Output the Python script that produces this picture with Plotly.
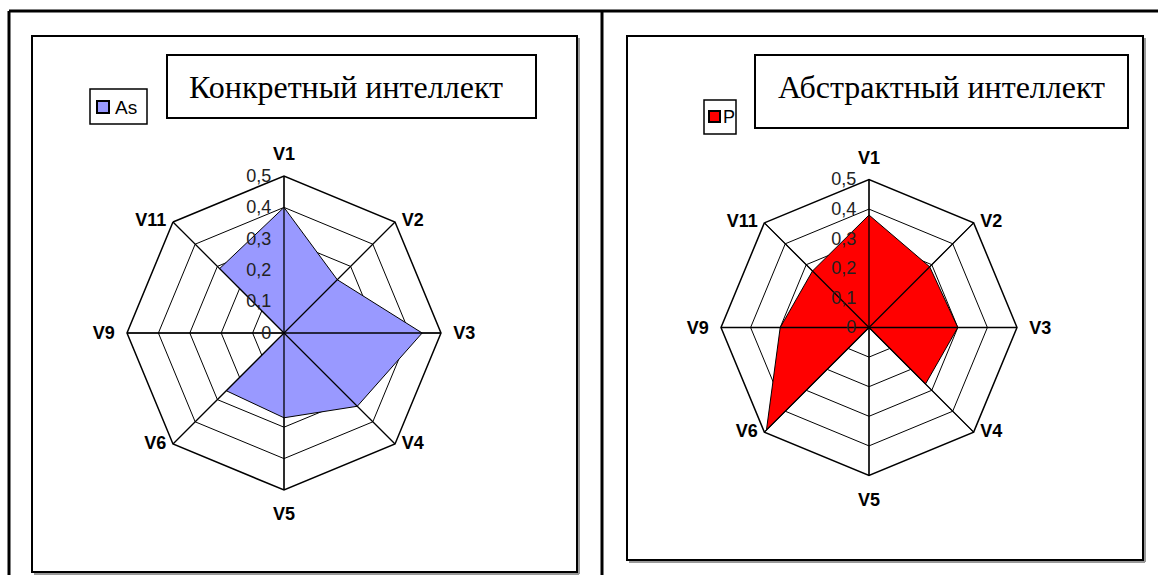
import plotly.graph_objects as go

W, H = 1158, 575

# Scale categories (clockwise from the top)
categories = ["V1", "V2", "V3", "V4", "V5", "V6", "V9", "V11"]

# Series values
as_values = [0.40, 0.24, 0.44, 0.33, 0.27, 0.26, 0.00, 0.29]
p_values = [0.38, 0.29, 0.30, 0.27, 0.00, 0.49, 0.30, 0.27]

# Radial tick labels (decimal comma)
r_tickvals = [0, 0.1, 0.2, 0.3, 0.4, 0.5]
r_ticktext = ["0", "0,1", "0,2", "0,3", "0,4", "0,5"]
r_max = 0.5

titles = ["Конкретный интеллект", "Абстрактный интеллект"]
series_names = ["As", "P"]
fill_colors = ["#9999FF", "#FF0000"]

# spokes on the vertical/horizontal get the axis' own labels,
# diagonal spokes get labels placed beside their outer vertex
straight = categories[0::2]
diagonal = categories[1::2]
diagonal_positions = ["middle right", "middle right", "middle left", "middle left"]
label_font = dict(family="Liberation Sans, Arial", size=18, color="black", weight="bold")


def px(x):
    return x / W


def py(y):
    return 1 - y / H


def closed(vals):
    return list(vals) + [vals[0]]


fig = go.Figure()

polar_ids = ["polar", "polar2"]
for i, (vals, name, color) in enumerate(zip([as_values, p_values], series_names, fill_colors)):
    fig.add_trace(go.Scatterpolar(
        r=closed(vals), theta=closed(categories), name=name,
        mode="lines", fill="toself", fillcolor=color,
        line=dict(color="black", width=1),
        subplot=polar_ids[i], showlegend=False, hoverinfo="r+theta",
    ))
    # spokes drawn over the filled area
    sr, st = [], []
    for c in categories:
        sr += [0, r_max, None]
        st += [c, c, None]
    fig.add_trace(go.Scatterpolar(
        r=sr, theta=st, mode="lines", line=dict(color="black", width=1.3),
        subplot=polar_ids[i], showlegend=False, hoverinfo="skip",
    ))
    # labels of the diagonal spokes (invisible marker keeps them off the vertex)
    fig.add_trace(go.Scatterpolar(
        r=[r_max] * len(diagonal), theta=diagonal, text=diagonal,
        mode="markers+text", marker=dict(size=9, color="rgba(0,0,0,0)"),
        textposition=diagonal_positions, textfont=label_font,
        subplot=polar_ids[i], showlegend=False, hoverinfo="skip", cliponaxis=False,
    ))


def polar_layout(cx, cy, rad):
    return dict(
        domain=dict(x=[px(cx - rad), px(cx + rad)], y=[py(cy + rad), py(cy - rad)]),
        gridshape="linear",
        bgcolor="white",
        angularaxis=dict(
            rotation=90, direction="clockwise",
            tickvals=categories,
            ticktext=[c if c in straight else "" for c in categories],
            showline=True, linecolor="black", linewidth=1.5,
            showgrid=True, gridcolor="black", gridwidth=1.3,
            ticks="outside", ticklen=8, tickcolor="rgba(0,0,0,0)",
            tickfont=label_font,
        ),
        radialaxis=dict(
            range=[0, r_max], angle=90, side="counterclockwise", tickangle=90,
            tickvals=r_tickvals, ticktext=r_ticktext,
            showline=False, ticks="outside", ticklen=6, tickcolor="rgba(0,0,0,0)",
            showgrid=True, gridcolor="black", gridwidth=1.3,
            tickfont=dict(family="Liberation Sans, Arial", size=18, color="#222222"),
            layer="above traces",
        ),
    )


shapes = []


def line(x0, y0, x1, y1, w=2, color="black"):
    shapes.append(dict(type="line", xref="paper", yref="paper",
                       x0=px(x0), y0=py(y0), x1=px(x1), y1=py(y1),
                       line=dict(color=color, width=w)))


def rect(x0, y0, x1, y1, w=2, color="black", fill=None):
    d = dict(type="rect", xref="paper", yref="paper",
             x0=px(x0), y0=py(y0), x1=px(x1), y1=py(y1),
             line=dict(color=color, width=w))
    if fill:
        d["fillcolor"] = fill
    shapes.append(d)


# outer table frame
line(9, 11, W, 11, 3)
line(9, 11, 9, H, 3)
line(602, 11, 602, H, 3)

# chart area frames with a light shadow
line(34, 574, 579, 574, 2, "#999999")
line(579, 38, 579, 574, 2, "#999999")
rect(32, 36, 577, 572, 2)
line(629, 562, 1145, 562, 2, "#999999")
line(1145, 38, 1145, 562, 2, "#999999")
rect(627, 36, 1143, 560, 2)

# title boxes
rect(167, 55, 536, 118, 2)
rect(755, 55, 1128, 128, 2)

# legend boxes
rect(90, 89, 147, 124, 1.5)
rect(97, 101, 109, 113, 2, "black", fill_colors[0])
rect(704, 100, 736, 134, 1.5)
rect(709, 111, 720, 122, 2, "black", fill_colors[1])

annotations = [
    dict(text=titles[0], x=px(346), y=py(87), xref="paper", yref="paper",
         showarrow=False, xanchor="center", yanchor="middle",
         font=dict(family="Liberation Serif, Times New Roman", size=32, color="black")),
    dict(text=titles[1], x=px(941), y=py(87), xref="paper", yref="paper",
         showarrow=False, xanchor="center", yanchor="middle",
         font=dict(family="Liberation Serif, Times New Roman", size=32, color="black")),
    dict(text=series_names[0], x=px(113), y=py(107), xref="paper", yref="paper",
         showarrow=False, xanchor="left", yanchor="middle",
         font=dict(family="Liberation Sans, Arial", size=19, color="black")),
    dict(text=series_names[1], x=px(721), y=py(117), xref="paper", yref="paper",
         showarrow=False, xanchor="left", yanchor="middle",
         font=dict(family="Liberation Sans, Arial", size=18, color="black")),
]

fig.update_layout(
    width=W, height=H,
    margin=dict(l=0, r=0, t=0, b=0),
    paper_bgcolor="white",
    plot_bgcolor="white",
    polar=polar_layout(284, 333, 157),
    polar2=polar_layout(869, 327.5, 148),
    shapes=shapes,
    annotations=annotations,
    showlegend=False,
)

fig.write_html("out.html")
